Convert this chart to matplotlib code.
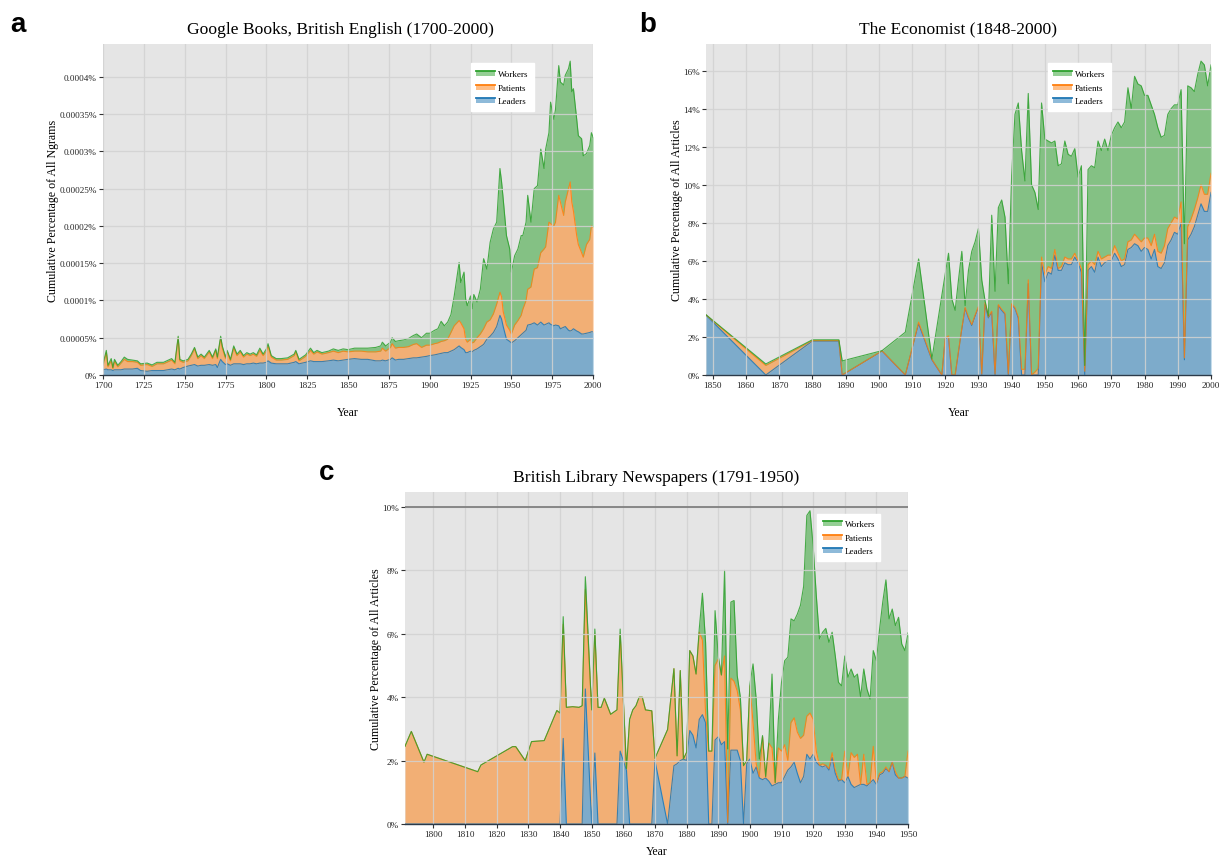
import numpy as np
import matplotlib
matplotlib.use('Agg')
import matplotlib.pyplot as plt
from matplotlib.patches import Rectangle
from matplotlib.lines import Line2D
from matplotlib.legend_handler import HandlerBase

plt.rcParams['font.family'] = ['Liberation Serif', 'DejaVu Serif']

# ---------------- data ----------------
series_names = ['Workers', 'Patients', 'Leaders']
series_colors = {'Leaders': '#1f77b4', 'Patients': '#ff7f0e', 'Workers': '#2ca02c'}

# Panel a: Google Books (values in units of 0.00001 %)
years_a = [1700, 1702, 1703, 1705, 1706, 1707, 1709, 1711, 1713, 1715,
           1718, 1721, 1723, 1727, 1730, 1733, 1737, 1742, 1744, 1746,
           1747, 1749, 1752, 1754, 1756, 1758, 1760, 1762, 1765, 1767,
           1769, 1770, 1772, 1773, 1775, 1776, 1778, 1780, 1782, 1784,
           1786, 1788, 1790, 1792, 1794, 1796, 1798, 1800, 1801, 1803,
           1806, 1809, 1813, 1817, 1818, 1820, 1824, 1827, 1829, 1831,
           1834, 1838, 1841, 1844, 1847, 1850, 1854, 1858, 1862, 1867,
           1870, 1871, 1873, 1876, 1877, 1879, 1881, 1884, 1887, 1890,
           1892, 1895, 1898, 1900, 1903, 1905, 1907, 1909, 1911, 1913,
           1915, 1918, 1919, 1921, 1922, 1923, 1925, 1926, 1927, 1929,
           1931, 1933, 1935, 1937, 1939, 1941, 1943, 1944, 1945, 1947,
           1949, 1950, 1952, 1954, 1956, 1957, 1959, 1960, 1962, 1964,
           1966, 1968, 1970, 1971, 1973, 1974, 1976, 1977, 1979, 1980,
           1982, 1983, 1985, 1986, 1987, 1988, 1990, 1991, 1993, 1994,
           1996, 1998, 1999, 2000]
leaders_a = [0.7, 0.8, 0.7, 0.7, 0.6, 0.7, 0.7, 0.7, 0.8, 0.8,
             0.8, 0.9, 0.6, 0.5, 0.6, 0.6, 0.6, 0.8, 0.7, 0.9,
             0.8, 1.0, 1.2, 1.3, 1.4, 1.2, 1.3, 1.3, 1.4, 1.3,
             1.4, 1.0, 2.1, 1.8, 1.4, 1.5, 1.3, 1.5, 1.5, 1.5,
             1.4, 1.5, 1.5, 1.6, 1.5, 1.6, 1.6, 1.7, 1.9, 1.6,
             1.5, 1.5, 1.5, 1.7, 1.8, 1.5, 1.7, 1.9, 1.8, 1.8,
             1.8, 1.9, 2.0, 1.9, 2.0, 2.1, 2.2, 2.1, 2.1, 1.9,
             1.9, 2.0, 1.9, 2.1, 2.3, 2.0, 2.1, 2.1, 2.2, 2.3,
             2.3, 2.4, 2.5, 2.6, 2.7, 2.8, 2.9, 3.0, 3.0, 3.2,
             3.4, 3.9, 3.7, 3.4, 3.0, 3.0, 3.2, 3.1, 3.3, 3.5,
             3.8, 4.1, 4.8, 5.2, 5.7, 6.5, 8.0, 7.5, 6.5, 4.8,
             4.5, 4.3, 4.6, 5.0, 5.4, 5.6, 6.0, 6.7, 6.8, 7.0,
             6.7, 7.1, 6.7, 6.8, 7.0, 6.8, 6.6, 6.7, 6.6, 6.2,
             6.4, 6.5, 6.0, 5.9, 6.0, 6.2, 5.9, 5.8, 5.5, 5.5,
             5.6, 5.7, 5.8, 5.8]
patients_a = [0.6, 2.2, 0.4, 1.2, 0.25, 1.1, 0.4, 0.9, 1.3, 1.0,
              1.0, 0.8, 0.7, 0.9, 0.55, 0.9, 0.9, 1.2, 0.8, 4.1,
              1.1, 0.7, 0.7, 1.3, 2.1, 1.0, 1.3, 0.9, 1.7, 0.9,
              1.9, 1.2, 2.8, 1.8, 0.8, 1.6, 0.6, 2.1, 1.1, 1.6,
              1.0, 1.3, 1.1, 1.2, 1.0, 1.7, 1.0, 1.5, 2.0, 0.8,
              0.5, 0.5, 0.6, 0.9, 1.3, 0.4, 0.8, 1.4, 1.0, 1.3,
              1.0, 1.1, 1.2, 1.1, 1.2, 1.0, 1.0, 1.1, 1.0, 1.2,
              1.3, 1.6, 1.3, 1.6, 1.9, 1.6, 1.6, 1.6, 1.6, 1.8,
              1.9, 1.3, 1.5, 1.4, 1.5, 1.5, 1.6, 1.6, 1.8, 2.5,
              3.2, 3.4, 3.3, 2.8, 1.8, 1.4, 1.6, 1.2, 1.1, 1.5,
              1.7, 2.1, 2.3, 2.2, 2.5, 3.0, 3.1, 3.0, 2.0, 1.9,
              1.5, 1.2, 2.1, 2.3, 2.6, 3.2, 4.0, 4.8, 5.0, 7.2,
              7.7, 9.3, 10.2, 10.4, 13.5, 13.5, 13.4, 13.8, 17.5, 17.0,
              15.0, 16.7, 19.0, 20.0, 17.2, 15.8, 12.8, 11.7, 10.9, 10.3,
              11.9, 12.5, 14.2, 14.0]
workers_a = [0.2, 0.3, 0.2, 0.3, 0.15, 0.3, 0.2, 0.2, 0.3, 0.3,
             0.2, 0.2, 0.2, 0.2, 0.2, 0.2, 0.2, 0.2, 0.2, 0.2,
             0.2, 0.2, 0.2, 0.2, 0.2, 0.2, 0.2, 0.2, 0.2, 0.2,
             0.2, 0.2, 0.3, 0.3, 0.2, 0.2, 0.2, 0.3, 0.2, 0.2,
             0.2, 0.2, 0.2, 0.2, 0.2, 0.3, 0.2, 0.3, 0.3, 0.2,
             0.2, 0.2, 0.2, 0.2, 0.2, 0.2, 0.2, 0.3, 0.2, 0.2,
             0.2, 0.2, 0.3, 0.3, 0.3, 0.3, 0.4, 0.4, 0.5, 0.6,
             0.7, 0.8, 0.7, 0.7, 0.8, 0.9, 0.9, 1.0, 1.1, 1.2,
             1.3, 1.3, 1.6, 1.6, 1.8, 1.9, 2.7, 2.0, 2.3, 2.4,
             4.0, 7.8, 5.4, 7.6, 5.4, 4.9, 5.8, 4.6, 6.4, 4.8,
             6.0, 9.4, 7.1, 10.4, 11.4, 11.0, 16.6, 15.4, 15.1, 12.0,
             10.9, 8.3, 9.3, 9.6, 10.7, 9.9, 10.5, 12.6, 8.7, 10.8,
             11.0, 13.9, 10.8, 13.1, 12.0, 16.3, 14.3, 15.1, 17.4, 16.1,
             17.5, 17.0, 16.1, 16.2, 14.8, 16.4, 15.6, 14.6, 15.3, 13.6,
             12.2, 12.6, 12.5, 12.1]
yticks_a = [0, 5, 10, 15, 20, 25, 30, 35, 40]
yticklabels_a = ['0%', '0.00005%', '0.0001%', '0.00015%', '0.0002%',
                 '0.00025%', '0.0003%', '0.00035%', '0.0004%']
xticks_a = [1700, 1725, 1750, 1775, 1800, 1825, 1850, 1875, 1900, 1925, 1950, 1975, 2000]

# Panel b: The Economist (percent)
years_b = [1848, 1866, 1880, 1888, 1889, 1901, 1908, 1912, 1916, 1919,
           1920, 1921, 1922, 1923, 1924, 1925, 1926, 1927, 1928, 1929,
           1930, 1931, 1932, 1933, 1934, 1935, 1936, 1937, 1938, 1939,
           1940, 1941, 1942, 1943, 1944, 1945, 1946, 1947, 1948, 1949,
           1950, 1951, 1952, 1953, 1954, 1955, 1956, 1957, 1958, 1959,
           1960, 1961, 1962, 1963, 1964, 1965, 1966, 1967, 1968, 1969,
           1970, 1971, 1972, 1973, 1974, 1975, 1976, 1977, 1978, 1979,
           1980, 1981, 1982, 1983, 1984, 1985, 1986, 1987, 1988, 1989,
           1990, 1991, 1992, 1993, 1994, 1995, 1996, 1997, 1998, 1999,
           2000]
leaders_b = [3.15, 0, 1.78, 1.78, 0, 1.26, 0, 2.7, 0.8, 0,
             1.9, 2.0, 0, 0, 1.2, 2.4, 3.5, 3.0, 2.6, 3.1,
             3.55, 0, 3.7, 3.0, 3.3, 0, 3.65, 3.4, 3.2, 0,
             3.7, 3.5, 3.0, 0, 0, 4.8, 0, 0, 0, 5.9,
             4.9, 5.4, 5.3, 6.3, 5.5, 5.5, 5.9, 5.8, 5.8, 6.2,
             5.9, 5.4, 0, 5.5, 5.7, 5.4, 6.2, 5.7, 5.9, 6.0,
             6.0, 6.4, 6.1, 5.7, 5.8, 6.6, 6.7, 6.9, 6.8, 6.5,
             6.7, 6.6, 6.1, 6.6, 5.7, 5.6, 5.9, 6.8, 7.1, 7.5,
             7.4, 8.0, 0.8, 7.1, 7.4, 7.8, 8.4, 9.0, 8.6, 8.6,
             9.6]
patients_b = [0, 0.5, 0.03, 0.03, 0, 0.01, 0, 0.08, 0.02, 0,
              0.05, 0.05, 0, 0, 0.05, 0.05, 0.05, 0.05, 0.05, 0.05,
              0.05, 0.05, 0.1, 0.05, 0.05, 0.05, 0.05, 0.05, 0.05, 0.05,
              0.05, 0.05, 0.05, 0.3, 0.3, 0.2, 0, 0.15, 0.35, 0.3,
              0.4, 0.3, 0.3, 0.3, 0.1, 0.2, 0.3, 0.3, 0.3, 0.2,
              0.1, 0.2, 0.2, 0.3, 0.3, 0.4, 0.3, 0.4, 0.3, 0.3,
              0.3, 0.4, 0.3, 0.3, 0.3, 0.4, 0.4, 0.5, 0.4, 0.5,
              0.5, 0.6, 0.7, 0.8, 0.8, 0.8, 0.9, 0.9, 0.9, 0.8,
              0.8, 1.1, 0.1, 0.7, 0.8, 0.9, 0.9, 1.0, 0.9, 0.9,
              1.0]
workers_b = [0.02, 0.08, 0.04, 0.04, 0.74, 0.01, 2.25, 3.32, 0.02, 4.2,
             3.35, 4.35, 4.0, 3.4, 3.75, 4.05, 0.1, 2.45, 3.85, 3.85,
             4.1, 4.95, 0.1, 0.05, 5.05, 4.35, 5.1, 5.75, 5.05, 4.75,
             6.75, 10.15, 11.25, 11.5, 9.9, 9.8, 10.0, 9.45, 8.35, 8.1,
             7.1, 6.6, 6.6, 5.7, 5.4, 5.4, 6.1, 5.5, 5.4, 5.5,
             4.4, 5.4, 0.3, 5.0, 5.0, 5.1, 5.8, 5.7, 6.2, 5.5,
             6.3, 6.2, 6.9, 7.0, 7.2, 8.1, 6.9, 8.3, 8.1, 8.2,
             7.5, 7.5, 7.4, 6.3, 6.5, 6.1, 5.8, 6.0, 6.0, 5.9,
             6.0, 5.9, 6.0, 7.4, 6.9, 6.2, 6.5, 6.5, 6.8, 5.7,
             5.7]
yticks_b = [0, 2, 4, 6, 8, 10, 12, 14, 16]
yticklabels_b = ['0%', '2%', '4%', '6%', '8%', '10%', '12%', '14%', '16%']
xticks_b = [1850, 1860, 1870, 1880, 1890, 1900, 1910, 1920, 1930, 1940,
            1950, 1960, 1970, 1980, 1990, 2000]

# Panel c: British Library Newspapers (percent)
years_c = [1791, 1793, 1797, 1798, 1814, 1815, 1825, 1826, 1829, 1831,
           1835, 1839, 1840, 1841, 1842, 1844, 1846, 1847, 1848, 1850,
           1851, 1852, 1853, 1854, 1856, 1858, 1859, 1861, 1862, 1863,
           1864, 1865, 1866, 1867, 1869, 1870, 1874, 1876, 1877, 1878,
           1879, 1880, 1881, 1882, 1883, 1884, 1885, 1886, 1887, 1888,
           1889, 1890, 1891, 1892, 1893, 1894, 1895, 1896, 1897, 1898,
           1899, 1900, 1901, 1902, 1903, 1904, 1905, 1906, 1907, 1908,
           1909, 1910, 1911, 1912, 1913, 1914, 1915, 1916, 1917, 1918,
           1919, 1920, 1921, 1922, 1923, 1924, 1925, 1926, 1927, 1928,
           1929, 1930, 1931, 1932, 1933, 1934, 1935, 1936, 1937, 1938,
           1939, 1940, 1941, 1942, 1943, 1944, 1945, 1946, 1947, 1948,
           1949, 1950]
leaders_c = [0, 0, 0, 0, 0, 0, 0, 0, 0, 0,
             0, 0, 0, 2.7, 0, 0, 0, 0, 4.26, 0,
             2.24, 0, 0, 0, 0, 0, 2.3, 1.7, 0, 0,
             0, 0, 0, 0, 0, 2.0, 0, 1.84, 1.9, 2.0,
             2.05, 2.0, 2.95, 2.8, 2.4, 3.3, 3.45, 3.2, 0, 0,
             2.65, 2.75, 2.5, 2.6, 0, 2.33, 2.33, 2.33, 2.0, 0,
             1.9, 2.05, 1.6, 1.8, 1.45, 1.4, 1.45, 1.35, 1.2, 1.25,
             1.3, 1.3, 1.5, 1.7, 1.8, 1.95, 1.6, 1.3, 1.5, 2.2,
             2.05, 2.2, 1.95, 1.85, 1.8, 1.85, 1.7, 2.1, 1.6, 1.35,
             1.4, 1.3, 1.5, 1.25, 1.15, 1.2, 1.25, 1.25, 1.2, 1.3,
             1.4, 1.25, 1.55, 1.6, 1.75, 1.65, 1.95, 1.55, 1.45, 1.45,
             1.5, 1.45]
patients_c = [2.45, 2.92, 1.95, 2.2, 1.65, 1.86, 2.44, 2.44, 2.0, 2.6,
              2.63, 3.58, 3.5, 3.6, 3.68, 3.7, 3.68, 3.73, 3.14, 3.6,
              3.76, 3.68, 3.68, 3.97, 3.46, 3.6, 3.7, 0.05, 3.3, 3.6,
              3.73, 4.0, 4.0, 3.6, 3.57, 0.07, 2.98, 3.06, 0.25, 2.84,
              0, 0.26, 2.52, 2.5, 2.33, 2.75, 2.35, 0.3, 2.3, 2.3,
              2.35, 2.45, 2.2, 2.7, 0.05, 2.27, 2.17, 1.87, 1.6, 1.84,
              0.1, 2.31, 1.6, 0.1, 0.05, 1.35, 0.02, 1.2, 1.2, 0.05,
              1.1, 1.0, 1.0, 0.3, 1.4, 1.4, 1.3, 1.4, 1.3, 1.2,
              1.45, 1.1, 0.35, 0, 0.1, 0, 0.05, 0.15, 0.1, 0.05,
              0, 1.0, 0, 1.0, 0.95, 1.0, 0, 0.95, 0.05, 0,
              1.05, 0.05, 0.05, 0.05, 0.05, 0, 0, 0.1, 0, 0,
              0, 0.85]
workers_c = [0, 0, 0, 0, 0, 0, 0, 0, 0, 0,
             0, 0, 0, 0.24, 0, 0, 0, 0, 0.4, 0,
             0.15, 0, 0, 0, 0, 0, 0.15, 0, 0, 0,
             0, 0, 0, 0, 0, 0, 0, 0, 0, 0,
             0, 0, 0, 0, 0, 0.1, 1.48, 2.23, 0, 0,
             1.73, 0.1, 0, 2.7, 2.32, 2.4, 2.55, 0.48, 0.4, 0,
             0, 0.04, 1.85, 2.04, 0.55, 0.04, 0.03, 0.05, 2.33, 0.01,
             0.9, 2.17, 2.65, 3.26, 3.27, 3.06, 3.72, 4.2, 4.7, 6.33,
             6.38, 5.48, 4.9, 3.99, 4.15, 4.32, 3.98, 3.8, 3.6, 3.07,
             2.96, 3.0, 3.13, 2.64, 2.53, 2.53, 2.75, 2.69, 3.01, 2.64,
             3.02, 3.85, 4.55, 5.35, 5.9, 4.82, 4.83, 4.61, 5.07, 4.23,
             3.97, 3.73]
yticks_c = [0, 2, 4, 6, 8, 10]
yticklabels_c = ['0%', '2%', '4%', '6%', '8%', '10%']
xticks_c = [1800, 1810, 1820, 1830, 1840, 1850, 1860, 1870, 1880, 1890,
            1900, 1910, 1920, 1930, 1940, 1950]

# ---------------- drawing ----------------
BG = '#e5e5e5'
FILL_ALPHA = 0.52


class AreaHandler(HandlerBase):
    def create_artists(self, legend, orig_handle, xdescent, ydescent,
                       width, height, fontsize, trans):
        c = orig_handle.get_facecolor()[:3]
        x0, y0 = -xdescent, -ydescent
        rect = Rectangle((x0, y0 + height * 0.12), width, height * 0.62,
                         facecolor=c, alpha=0.5, edgecolor='none', transform=trans)
        line = Line2D([x0, x0 + width], [y0 + height * 0.74] * 2,
                      color=c, lw=1.3, transform=trans)
        return [rect, line]


def panel(ax, years, leaders, patients, workers, title, ylabel,
          xticks, yticks, yticklabels, xlim, ylim, legend_anchor, xlabelpad,
          title_x=0.5):
    x = np.asarray(years, float)
    l = np.asarray(leaders, float)
    p = np.asarray(patients, float)
    w = np.asarray(workers, float)
    c1 = l
    c2 = l + p
    c3 = c2 + w
    ax.set_facecolor(BG)
    ax.fill_between(x, 0, c1, color=series_colors['Leaders'], alpha=FILL_ALPHA, lw=0, zorder=1)
    ax.fill_between(x, c1, c2, color=series_colors['Patients'], alpha=FILL_ALPHA, lw=0, zorder=1)
    ax.fill_between(x, c2, c3, color=series_colors['Workers'], alpha=FILL_ALPHA, lw=0, zorder=1)
    ax.plot(x, c1, color=series_colors['Leaders'], lw=0.8, alpha=0.85, zorder=2)
    ax.plot(x, c2, color=series_colors['Patients'], lw=0.8, alpha=0.85, zorder=2)
    ax.plot(x, c3, color=series_colors['Workers'], lw=0.8, alpha=0.85, zorder=2)

    ax.set_xlim(*xlim)
    ax.set_ylim(*ylim)
    ax.set_xticks(xticks)
    ax.set_yticks(yticks)
    ax.set_yticklabels(yticklabels)
    ax.grid(True, color='#d2d2d2', lw=0.9, alpha=0.85, zorder=3)
    ax.set_axisbelow(False)
    for s in ['top', 'right', 'left']:
        ax.spines[s].set_visible(False)
    ax.spines['bottom'].set_color('#2b3a4a')
    ax.spines['bottom'].set_linewidth(1.0)
    ax.spines['bottom'].set_zorder(5)
    ax.tick_params(axis='both', labelsize=6.6, length=3, width=0.8,
                   color='#333333', labelcolor='#222222', pad=1.5)
    ax.set_title(title, fontsize=12.6, pad=8, x=title_x)
    ax.set_ylabel(ylabel, fontsize=8.6, labelpad=0)
    ax.set_xlabel('Year', fontsize=8.5, labelpad=xlabelpad)

    handles = [Rectangle((0, 0), 1, 1, facecolor=series_colors[n]) for n in series_names]
    leg = ax.legend(handles, series_names, loc='upper right',
                    bbox_to_anchor=legend_anchor, fontsize=6.5,
                    handler_map={Rectangle: AreaHandler()},
                    frameon=True, fancybox=False, framealpha=1.0,
                    edgecolor='white', handlelength=2.1, handleheight=1.0,
                    handletextpad=0.3, labelspacing=0.5, borderpad=0.6)
    leg.set_zorder(10)


fig = plt.figure(figsize=(12.21, 8.62), dpi=100)

ax_a = fig.add_axes([0.0844, 0.5638, 0.4013, 0.3840])
panel(ax_a, years_a, leaders_a, patients_a, workers_a,
      'Google Books, British English (1700-2000)',
      'Cumulative Percentage of All Ngrams',
      xticks_a, yticks_a, yticklabels_a, (1700, 2000), (0, 44.4), (0.888, 0.955), 12,
      title_x=0.485)

ax_b = fig.add_axes([0.5782, 0.5638, 0.4136, 0.3840])
panel(ax_b, years_b, leaders_b, patients_b, workers_b,
      'The Economist (1848-2000)',
      'Cumulative Percentage of All Articles',
      xticks_b, yticks_b, yticklabels_b, (1848, 2000), (0, 17.4), (0.81, 0.955), 12)

ax_c = fig.add_axes([0.3317, 0.0429, 0.4120, 0.3851])
panel(ax_c, years_c, leaders_c, patients_c, workers_c,
      'British Library Newspapers (1791-1950)',
      'Cumulative Percentage of All Articles',
      xticks_c, yticks_c, yticklabels_c, (1791, 1950), (0, 10.47), (0.954, 0.949), 5)
ax_c.axhline(10, color='#808080', lw=1.3, zorder=4)

for lbl, (px, py) in {'a': (18, 25), 'b': (648, 25), 'c': (327, 473)}.items():
    fig.text(px / 1221, 1 - py / 862, lbl, fontsize=20, fontweight='bold',
             family=['Liberation Sans', 'DejaVu Sans'], ha='center', va='center')

fig.savefig('out.png', dpi=100)
